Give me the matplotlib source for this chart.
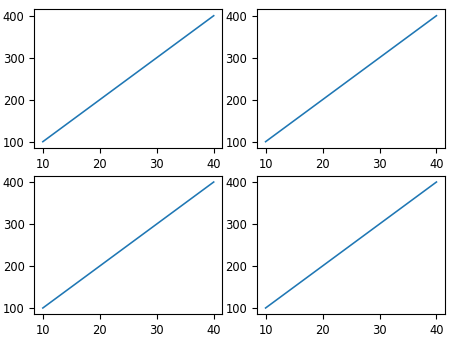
import matplotlib
matplotlib.use("Agg")
import matplotlib.pyplot as plt

x = [10, 20, 30, 40]
y = [100, 200, 300, 400]

plt.rcParams["font.size"] = 8.3

fig, axes = plt.subplots(2, 2, figsize=(4.5, 3.43), dpi=100)
for ax in axes.flat:
    ax.plot(x, y, linewidth=1.15)

fig.subplots_adjust(left=0.0762, right=0.9889, top=0.9726, bottom=0.0837,
                    wspace=0.185, hspace=0.2)
fig.savefig("out.png", dpi=100)
